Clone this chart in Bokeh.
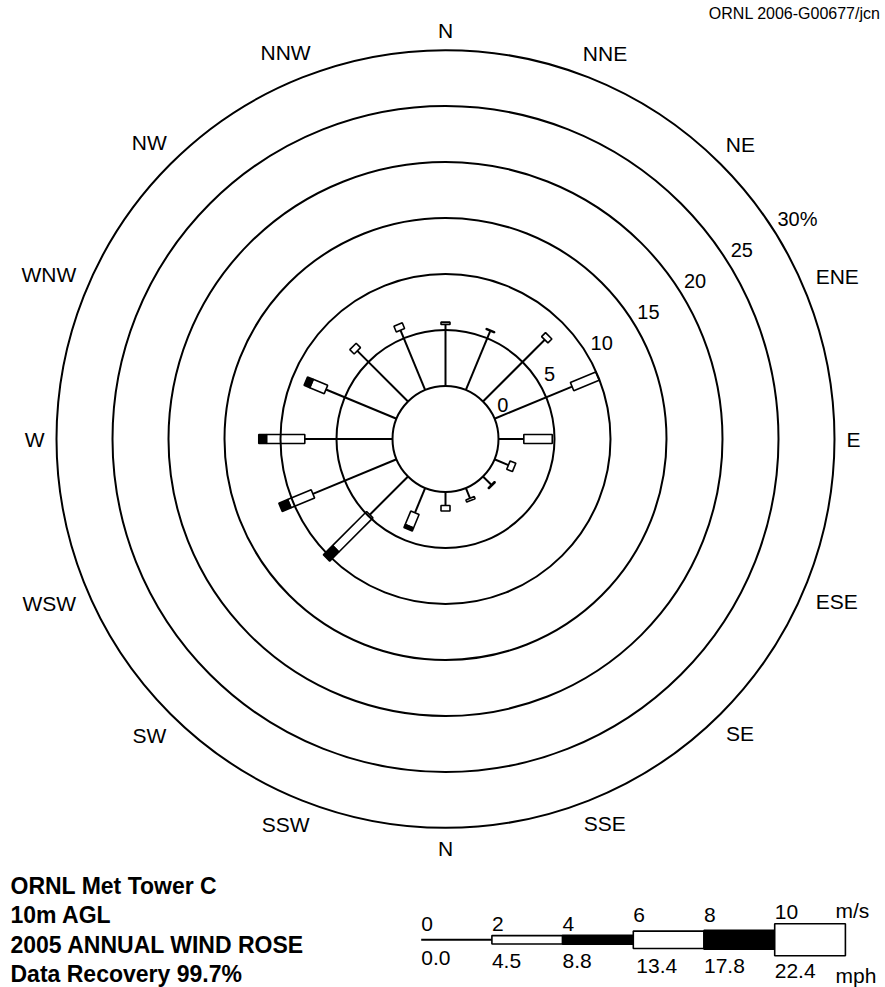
import numpy as np
from bokeh.plotting import figure
from bokeh.models import Range1d
from bokeh.core.properties import value
from bokeh.embed import file_html
from bokeh.resources import INLINE

# ---------------- data ----------------
directions = ["N", "NNE", "NE", "ENE", "E", "ESE", "SE", "SSE",
              "S", "SSW", "SW", "WSW", "W", "WNW", "NW", "NNW"]
dir_labels = ["N", "NNE", "NE", "ENE", "E", "ESE", "SE", "SSE",
              "N", "SSW", "SW", "WSW", "W", "WNW", "NW", "NNW"]
# frequency (%) by speed class
pct_0_2 = [5.5, 5.7, 7.8, 7.5, 2.26, 1.35, 1.05, 1.0,
           1.2, 2.4, 4.83, 8.08, 7.83, 6.82, 6.4, 5.78]
pct_2_4 = [0.2, 0.08, 0.5, 2.45, 2.54, 0.55, 0.1, 0.2,
           0.5, 1.3, 4.3, 2.28, 3.42, 1.4, 0.55, 0.55]
pct_4_6 = [0, 0, 0, 0, 0, 0, 0, 0,
           0, 0.3, 1.16, 0.85, 0.69, 0.55, 0, 0]
ring_pcts = [0, 5, 10, 15, 20, 25, 30]
ring_labels = ["0", "5", "10", "15", "20", "25", "30%"]
legend_ms = [0, 2, 4, 6, 8, 10]
legend_ms_labels = ["0", "2", "4", "6", "8", "10"]
legend_mph_labels = ["0.0", "4.5", "8.8", "13.4", "17.8", "22.4"]
title_lines = ["ORNL Met Tower C", "10m AGL", "2005 ANNUAL WIND ROSE", "Data Recovery 99.7%"]
credit = "ORNL 2006-G00677/jcn"

# ---------------- layout ----------------
W, H = 885, 987
CX, CY = 445, 438.5          # rose centre in page pixels
R0 = 53.0                    # radius of the calm (0 %) circle
PX = 11.2                    # pixels per percent
FONT = value("Liberation Sans")


def X(px):
    return px - CX


def Y(py):
    return CY - py


p = figure(width=W, height=H, output_backend="svg", toolbar_location=None,
           x_range=Range1d(X(0), X(W)), y_range=Range1d(Y(H), Y(0)),
           x_axis_location=None, y_axis_location=None,
           min_border=0, min_border_left=0, min_border_right=0,
           min_border_top=0, min_border_bottom=0,
           background_fill_color="white", border_fill_color="white")
p.grid.visible = False
p.outline_line_color = None


def rad(pct):
    return R0 + PX * pct


def box(theta, ra, rb, hw):
    ux, uy = np.sin(theta), np.cos(theta)
    nx, ny = np.cos(theta), -np.sin(theta)
    xs = [ra * ux + hw * nx, rb * ux + hw * nx, rb * ux - hw * nx, ra * ux - hw * nx]
    ys = [ra * uy + hw * ny, rb * uy + hw * ny, rb * uy - hw * ny, ra * uy - hw * ny]
    return xs, ys


# ---------------- bars ----------------
seg_x0, seg_y0, seg_x1, seg_y1 = [], [], [], []
wx, wy, bx, by = [], [], [], []
for i, d in enumerate(directions):
    th = np.radians(i * 22.5)
    r1 = rad(pct_0_2[i])
    r2 = rad(pct_0_2[i] + pct_2_4[i])
    r3 = rad(pct_0_2[i] + pct_2_4[i] + pct_4_6[i])
    seg_x0.append(R0 * np.sin(th)); seg_y0.append(R0 * np.cos(th))
    seg_x1.append(r1 * np.sin(th)); seg_y1.append(r1 * np.cos(th))
    if pct_2_4[i] > 0:
        xs, ys = box(th, r1, r2, 4.5)
        wx.append(xs); wy.append(ys)
    if pct_4_6[i] > 0:
        xs, ys = box(th, r2, r3, 4.5)
        bx.append(xs); by.append(ys)

p.segment(seg_x0, seg_y0, seg_x1, seg_y1, line_color="black", line_width=2)
p.patches(wx, wy, fill_color="white", line_color="black", line_width=1.6)
p.patches(bx, by, fill_color="black", line_color="black", line_width=1.6)

# ---------------- rings ----------------
p.circle(x=[0] * len(ring_pcts), y=[0] * len(ring_pcts),
         radius=[rad(v) for v in ring_pcts],
         fill_color=None, line_color="black", line_width=2)

ra_ = np.radians(56.5)
p.text(x=[(rad(v) + 9) * np.sin(ra_) for v in ring_pcts],
       y=[(rad(v) + 9) * np.cos(ra_) for v in ring_pcts],
       text=ring_labels, text_font=FONT, text_font_size=value("20px"),
       text_align="left", text_baseline="middle", text_color="black")

# ---------------- direction labels ----------------
cw = {"N": 0.722, "E": 0.667, "S": 0.667, "W": 0.944}
lx, ly = [], []
for i, lab in enumerate(dir_labels):
    th = np.radians(i * 22.5)
    w = sum(cw[c] for c in lab) * 21
    r = 401 + abs(np.sin(th)) * w / 2 + abs(np.cos(th)) * 8
    lx.append(r * np.sin(th)); ly.append(r * np.cos(th))
p.text(x=lx, y=ly, text=dir_labels, text_font=FONT, text_font_size=value("21px"),
       text_align="center", text_baseline="middle", text_color="black")

# ---------------- speed legend ----------------
LX0, LY = 420.7, 939.3
LPX = 70.7 / 2.0                       # pixels per m/s
half_h = [0, 4.2, 4.5, 8.7, 9.5, 16.0]   # box half-heights per class
fills = [None, "white", "black", "white", "black", "white"]
top_gap = [16.0, 16.0, 16.0, 25.3, 25.3, 27.8]   # centre of m/s labels above legend axis
bot_gap = [10.7, 13.7, 13.7, 19.0, 19.0, 24.0]   # top of mph labels below legend axis
edges = legend_ms + [legend_ms[-1] + 2]
p.line([X(LX0 + LPX * edges[0]), X(LX0 + LPX * edges[1])], [Y(LY), Y(LY)],
       line_color="black", line_width=2)
for k in range(1, len(edges) - 1):
    xa, xb = X(LX0 + LPX * edges[k]), X(LX0 + LPX * edges[k + 1])
    p.quad(left=[xa], right=[xb], bottom=[Y(LY + half_h[k])], top=[Y(LY - half_h[k])],
           fill_color=fills[k], line_color="black", line_width=1.6)

p.text(x=[X(LX0 + LPX * s) for s in legend_ms],
       y=[Y(LY - g) for g in top_gap], text=legend_ms_labels,
       text_font=FONT, text_font_size=value("21px"),
       text_align="left", text_baseline="middle", text_color="black")
p.text(x=[X(LX0 + LPX * s + (3 if s == 6 else 0)) for s in legend_ms],
       y=[Y(LY + g) for g in bot_gap], text=legend_mph_labels,
       text_font=FONT, text_font_size=value("21px"),
       text_align="left", text_baseline="top", text_color="black")
p.text(x=[X(835)], y=[Y(910)], text=["m/s"],
       text_font=FONT, text_font_size=value("21px"),
       text_align="left", text_baseline="middle", text_color="black")
p.text(x=[X(835)], y=[Y(963)], text=["mph"],
       text_font=FONT, text_font_size=value("21px"),
       text_align="left", text_baseline="top", text_color="black")

# ---------------- titles ----------------
p.text(x=[X(10)] * len(title_lines),
       y=[Y(885.5 + 29.3 * i) for i in range(len(title_lines))],
       text=title_lines, text_font=FONT, text_font_size=value("23px"),
       text_font_style="bold", text_align="left", text_baseline="middle",
       text_color="black")
p.text(x=[X(880)], y=[Y(13)], text=[credit], text_font=FONT,
       text_font_size=value("16px"), text_align="right", text_baseline="middle",
       text_color="black")

open("out.html", "w").write(file_html(p, INLINE))
